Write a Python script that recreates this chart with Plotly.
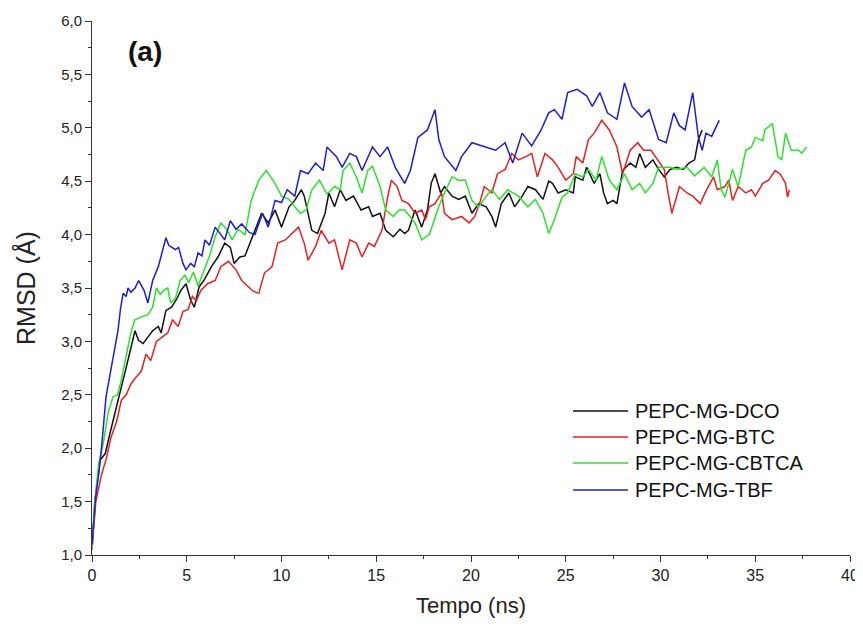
import plotly.graph_objects as go

# ---- data (time in ns, RMSD in Å) ----
dco = [(0,1.05),(0.15,1.5),(0.43,1.89),(0.7,1.95),(0.95,2.14),(1.2,2.33),(1.46,2.51),(1.73,2.7),(2.0,2.89),
       (2.27,3.1),(2.45,3.01),(2.7,2.98),(2.95,3.04),(3.2,3.1),(3.5,3.14),(3.65,3.08),(3.9,3.29),(4.2,3.32),
       (4.45,3.39),(4.7,3.48),(4.96,3.54),(5.2,3.39),(5.4,3.32),(5.65,3.51),(5.9,3.57),(6.3,3.7),(6.65,3.79),
       (7.0,3.92),(7.3,3.88),(7.5,3.73),(7.8,3.79),(8.07,3.8),(8.4,3.95),(8.8,4.14),(8.95,4.2),(9.3,4.11),
       (9.66,4.23),(10.0,4.07),(10.4,4.26),(10.7,4.32),(11.05,4.42),(11.2,4.36),(11.6,4.04),(11.9,4.01),
       (12.3,4.2),(12.5,4.39),(12.8,4.26),(13.1,4.42),(13.4,4.32),(13.8,4.36),(14.2,4.23),(14.6,4.26),
       (14.8,4.17),(15.2,4.2),(15.5,4.04),(15.9,3.98),(16.25,4.05),(16.5,4.01),(16.7,4.04),(17.05,4.23),
       (17.4,4.07),(17.7,4.23),(17.9,4.48),(18.1,4.57),(18.4,4.39),(18.6,4.45),(19.0,4.36),(19.35,4.33),
       (19.7,4.36),(20.05,4.2),(20.4,4.29),(20.8,4.26),(21.1,4.17),(21.3,4.07),(21.6,4.29),(22.0,4.39),
       (22.3,4.26),(22.7,4.36),(23.0,4.45),(23.4,4.42),(23.8,4.33),(24.1,4.5),(24.3,4.48),(24.6,4.39),
       (25.0,4.42),(25.4,4.39),(25.5,4.54),(25.9,4.51),(26.1,4.63),(26.5,4.48),(26.8,4.57),(27.0,4.39),
       (27.2,4.29),(27.5,4.32),(27.7,4.29),(28.0,4.6),(28.4,4.67),(28.7,4.63),(28.9,4.76),(29.2,4.63),
       (29.6,4.7),(29.9,4.61),(30.2,4.54),(30.5,4.61),(30.85,4.63),(31.2,4.61),(31.5,4.67),(31.8,4.7),
       (32.0,4.89),(32.2,4.98)]

btc = [(0,1.05),(0.2,1.5),(0.5,1.75),(0.75,1.9),(1.0,2.1),(1.3,2.25),(1.55,2.45),(1.8,2.5),(2.05,2.6),
       (2.3,2.66),(2.6,2.72),(2.85,2.88),(3.1,2.82),(3.4,3.0),(3.7,3.04),(4.0,3.08),(4.25,3.2),(4.55,3.14),
       (4.8,3.28),(5.07,3.3),(5.3,3.42),(5.5,3.38),(5.75,3.48),(6.1,3.54),(6.5,3.57),(6.8,3.7),(7.2,3.75),
       (7.6,3.67),(7.9,3.57),(8.2,3.52),(8.5,3.47),(8.8,3.45),(9.1,3.64),(9.5,3.7),(9.8,3.92),(10.2,3.95),
       (10.5,4.0),(10.9,4.07),(11.2,3.92),(11.4,3.76),(11.8,3.89),(12.1,4.04),(12.5,3.92),(12.8,3.95),
       (13.2,3.67),(13.6,3.95),(13.95,3.92),(14.25,3.79),(14.6,3.92),(14.9,3.89),(15.3,4.04),(15.6,4.35),
       (15.8,4.51),(16.1,4.45),(16.35,4.32),(16.7,4.29),(17.05,4.2),(17.4,4.23),(17.6,4.14),(17.8,4.26),
       (18.1,4.29),(18.45,4.39),(18.6,4.2),(19.0,4.14),(19.5,4.17),(19.9,4.11),(20.2,4.17),(20.5,4.32),
       (20.7,4.45),(21.1,4.39),(21.4,4.57),(21.8,4.61),(22.15,4.76),(22.5,4.7),(22.9,4.73),(23.2,4.76),
       (23.5,4.54),(23.9,4.76),(24.3,4.7),(24.6,4.63),(25.0,4.51),(25.4,4.57),(25.55,4.73),(25.9,4.67),
       (26.2,4.89),(26.5,4.95),(26.9,5.07),(27.3,4.98),(27.7,4.82),(28.0,4.57),(28.4,4.79),(28.8,4.86),
       (29.1,4.79),(29.5,4.79),(29.85,4.7),(30.2,4.61),(30.4,4.39),(30.6,4.2),(31.0,4.45),(31.4,4.39),
       (31.7,4.36),(32.1,4.29),(32.35,4.39),(32.6,4.48),(32.8,4.54),(33.0,4.42),(33.4,4.45),(33.6,4.51),
       (33.8,4.32),(34.1,4.45),(34.5,4.39),(34.8,4.42),(35.0,4.36),(35.4,4.48),(35.7,4.51),(36.05,4.6),
       (36.3,4.57),(36.6,4.48),(36.7,4.35),(36.8,4.42)]

cbtca = [(0,1.05),(0.15,1.5),(0.35,1.85),(0.6,2.05),(0.85,2.33),(1.1,2.48),(1.35,2.5),(1.55,2.64),(1.8,2.86),
         (2.05,3.08),(2.25,3.2),(2.6,3.23),(2.95,3.25),(3.2,3.32),(3.4,3.5),(3.6,3.44),(3.8,3.48),(4.0,3.5),
         (4.15,3.36),(4.4,3.4),(4.65,3.57),(4.9,3.62),(5.1,3.55),(5.35,3.65),(5.6,3.52),(5.9,3.66),(6.2,3.8),
         (6.5,3.98),(6.8,4.11),(7.1,4.05),(7.4,3.95),(7.7,4.05),(8.07,4.0),(8.4,4.32),(8.8,4.51),(9.2,4.6),
         (9.66,4.48),(10.0,4.36),(10.4,4.33),(10.7,4.26),(11.0,4.2),(11.3,4.23),(11.6,4.42),(12.0,4.51),
         (12.4,4.38),(12.8,4.45),(13.1,4.42),(13.25,4.6),(13.6,4.67),(13.95,4.54),(14.25,4.39),(14.55,4.6),
         (14.8,4.64),(15.2,4.45),(15.5,4.23),(15.9,4.17),(16.2,4.23),(16.5,4.23),(17.05,4.11),(17.4,3.95),
         (17.8,4.0),(18.3,4.26),(18.6,4.39),(19.0,4.54),(19.35,4.51),(19.7,4.51),(20.05,4.32),(20.4,4.26),
         (20.8,4.36),(21.1,4.42),(21.5,4.33),(21.95,4.42),(22.5,4.36),(23.0,4.26),(23.4,4.33),(23.8,4.2),
         (24.1,4.01),(24.4,4.14),(24.8,4.35),(25.1,4.39),(25.5,4.57),(25.9,4.54),(26.2,4.61),(26.6,4.51),
         (26.9,4.73),(27.3,4.51),(27.7,4.42),(28.1,4.57),(28.5,4.42),(28.9,4.48),(29.2,4.39),(29.6,4.48),
         (29.9,4.63),(30.5,4.63),(30.85,4.61),(31.4,4.63),(31.8,4.55),(32.3,4.63),(32.7,4.54),(33.0,4.7),
         (33.2,4.42),(33.4,4.35),(33.8,4.61),(34.1,4.45),(34.5,4.79),(34.8,4.82),(35.0,4.91),(35.4,4.88),
         (35.5,4.98),(35.9,5.04),(36.2,4.73),(36.4,4.7),(36.6,4.95),(36.9,4.79),(37.3,4.79),(37.45,4.76),
         (37.7,4.82)]

tbf = [(0,1.1),(0.1,1.35),(0.2,1.55),(0.35,1.75),(0.5,2.0),(0.74,2.48),(1.0,2.73),(1.2,2.9),(1.37,3.1),
       (1.5,3.3),(1.64,3.45),(1.8,3.42),(1.9,3.5),(2.05,3.46),(2.27,3.5),(2.46,3.57),(2.6,3.52),(2.74,3.48),
       (2.95,3.36),(3.2,3.57),(3.5,3.7),(3.75,3.88),(3.9,3.97),(4.05,3.9),(4.2,3.88),(4.4,3.86),(4.57,3.88),
       (4.8,3.73),(4.96,3.67),(5.2,3.73),(5.4,3.7),(5.6,3.83),(5.8,3.8),(5.96,3.95),(6.2,3.9),(6.5,4.07),
       (6.8,4.0),(7.0,3.95),(7.3,4.13),(7.6,4.05),(7.9,4.1),(8.07,4.07),(8.3,4.02),(8.6,4.0),(9.0,4.2),
       (9.3,4.07),(9.66,4.32),(10.0,4.3),(10.3,4.42),(10.7,4.36),(11.0,4.6),(11.4,4.57),(11.8,4.67),
       (12.2,4.6),(12.4,4.82),(12.9,4.73),(13.2,4.63),(13.6,4.76),(13.95,4.73),(14.25,4.6),(14.8,4.82),
       (15.2,4.73),(15.6,4.82),(16.0,4.63),(16.5,4.48),(16.8,4.6),(17.2,4.91),(17.7,4.98),(18.1,5.17),
       (18.3,4.89),(18.6,4.73),(19.2,4.6),(19.5,4.73),(20.05,4.86),(20.6,4.83),(21.3,4.79),(21.8,4.86),
       (22.2,4.67),(22.7,4.95),(23.2,4.83),(23.7,4.98),(24.1,5.14),(24.4,5.17),(24.8,5.08),(25.1,5.33),
       (25.6,5.36),(26.1,5.3),(26.4,5.2),(26.8,5.33),(27.2,5.14),(27.7,5.08),(28.1,5.42),(28.5,5.2),
       (29.0,5.1),(29.4,5.17),(29.9,4.89),(30.3,4.86),(30.7,5.14),(31.0,5.02),(31.3,4.98),(31.7,5.33),
       (32.0,4.91),(32.2,4.79),(32.4,4.95),(32.7,4.92),(33.1,5.07)]

series_names = ["PEPC-MG-DCO", "PEPC-MG-BTC", "PEPC-MG-CBTCA", "PEPC-MG-TBF"]
series_data = [dco, btc, cbtca, tbf]
series_colors = ["#111111", "#e32222", "#2ee02e", "#1f1fd0"]

x_ticks = [0, 5, 10, 15, 20, 25, 30, 35, 40]
y_ticks = [1.0, 1.5, 2.0, 2.5, 3.0, 3.5, 4.0, 4.5, 5.0, 5.5, 6.0]

fig = go.Figure()
for name, data, color in zip(series_names, series_data, series_colors):
    t = [p[0] for p in data]
    v = [p[1] for p in data]
    fig.add_trace(go.Scatter(x=t, y=v, mode="lines", name=name, showlegend=False,
                             line=dict(color=color, width=1.5)))

font_family = "Liberation Sans, Arial, sans-serif"
fig.update_layout(
    width=855, height=618,
    margin=dict(l=84, r=13, t=13, b=71),
    plot_bgcolor="white", paper_bgcolor="white",
    separators=",.",
    font=dict(family=font_family, color="#222222"),
    showlegend=False,
    xaxis=dict(range=[0, 40], tickvals=x_ticks, ticks="outside", ticklen=6, tickwidth=1,
               tickcolor="#333333", showline=True, linecolor="#333333", linewidth=1,
               showgrid=False, zeroline=False, tickfont=dict(size=16), automargin=False,
               minor=dict(ticks="outside", ticklen=3, dtick=2.5, tick0=0, tickcolor="#333333", showgrid=False),
               title=dict(text="Tempo (ns)", font=dict(size=22), standoff=14)),
    yaxis=dict(range=[1, 6], tickvals=y_ticks, tickformat=".1f", ticks="outside", ticklen=6, tickwidth=1,
               tickcolor="#333333", showline=True, linecolor="#333333", linewidth=1,
               showgrid=False, zeroline=False, tickfont=dict(size=15), automargin=False,
               minor=dict(ticks="outside", ticklen=3, dtick=0.25, tick0=1, tickcolor="#333333", showgrid=False),
               title=dict(text="RMSD (Å)", font=dict(size=25), standoff=18)),
)

# legend drawn as line samples + text, positioned in paper coordinates
legend_rows_y = [0.2697, 0.2210, 0.1723, 0.1217]
for name, color, ry in zip(series_names, series_colors, legend_rows_y):
    fig.add_shape(type="line", xref="paper", yref="paper", x0=0.6346, x1=0.7071, y0=ry, y1=ry,
                  line=dict(color=color, width=1.5))
    fig.add_annotation(xref="paper", yref="paper", x=0.7137, y=ry, xanchor="left", yanchor="middle",
                       text=name, showarrow=False,
                       font=dict(size=20, family=font_family, color="#111111"))

fig.add_annotation(x=2.8, y=5.71, xref="x", yref="y", text="<b>(a)</b>", showarrow=False,
                   font=dict(size=28, family=font_family, color="#111111"))

fig.write_html("out.html")
